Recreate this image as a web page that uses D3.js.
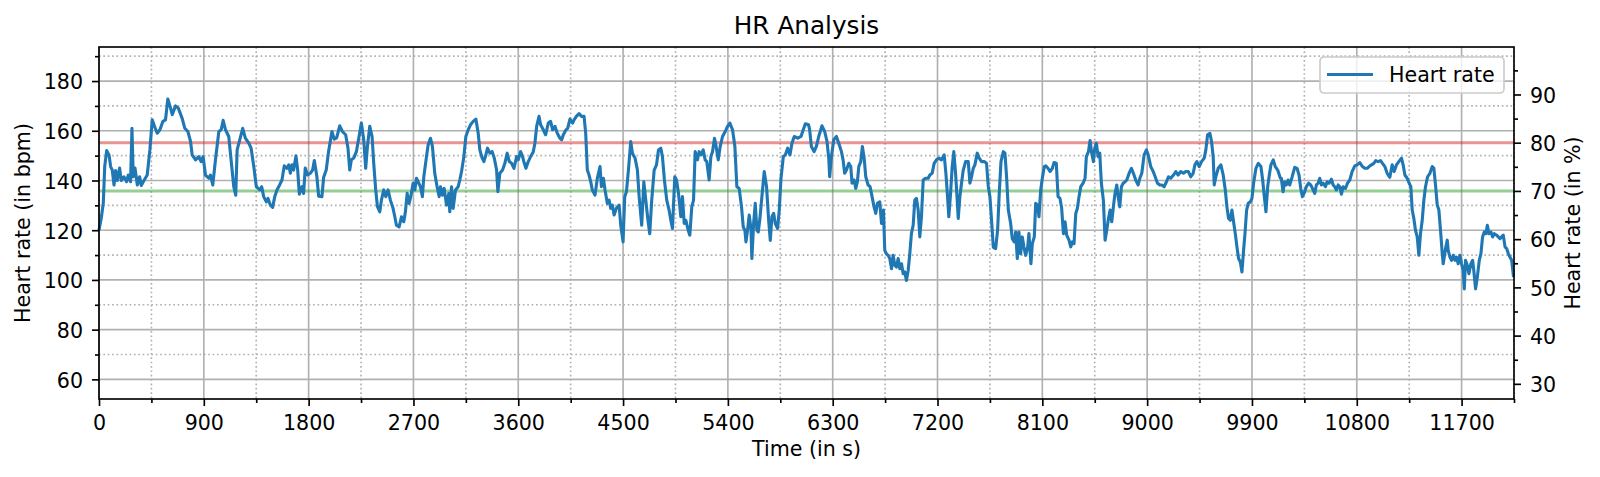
<!DOCTYPE html>
<html>
<head>
<meta charset="utf-8">
<title>HR Analysis</title>
<script src="https://cdn.jsdelivr.net/npm/d3@7"></script>
<style>
  html, body { margin: 0; padding: 0; background: #fff; }
  svg { display: block; }
</style>
</head>
<body>
<div id="chart"></div>
<script>
// elapsed time of each sample (s)
var timeSec = [
  0, 20, 37, 49, 66, 86, 100, 114, 129, 143,
  157, 177, 191, 214, 237, 251, 271, 283, 294, 309,
  329, 349, 363, 386, 414, 437, 457, 477, 500, 523,
  549, 571, 591, 614, 629, 657, 680, 714, 737, 763,
  786, 800, 829, 857, 877, 894, 914, 943, 957, 977,
  1000, 1029, 1049, 1066, 1086, 1114, 1143, 1157, 1174, 1186,
  1209, 1234, 1257, 1286, 1306, 1329, 1351, 1380, 1397, 1414,
  1437, 1451, 1471, 1491, 1509, 1528, 1551, 1571, 1591, 1614,
  1629, 1643, 1657, 1671, 1691, 1706, 1720, 1743, 1757, 1771,
  1791, 1814, 1834, 1849, 1871, 1886, 1914, 1929, 1951, 1971,
  2000, 2020, 2037,
  2044, 2067, 2090, 2118, 2138, 2153, 2167, 2187, 2210, 2233,
  2253, 2273, 2290, 2305, 2325, 2345, 2359, 2376, 2391, 2411,
  2425, 2445, 2462, 2482, 2502, 2525, 2540, 2554, 2577, 2597,
  2617, 2631, 2646, 2663, 2677, 2697, 2712, 2726, 2746, 2760,
  2777, 2789, 2812, 2826, 2846, 2863, 2883, 2903, 2921, 2932,
  2949, 2964, 2984, 3004, 3012, 3027, 3041, 3061, 3084, 3098,
  3113, 3133, 3150, 3170, 3190, 3213, 3236, 3256, 3270, 3290,
  3305, 3322, 3336, 3356, 3376, 3394, 3414, 3425, 3442, 3465,
  3485, 3505, 3523, 3543, 3563, 3586, 3600, 3620, 3637, 3652,
  3666, 3686, 3706, 3729, 3743, 3758, 3778, 3792, 3815, 3835,
  3858, 3878, 3895, 3915, 3935, 3958, 3973, 3987, 4010, 4024,
  4044, 4067,
  4079, 4099, 4122, 4142, 4165, 4179, 4193, 4208, 4222, 4236,
  4259, 4279, 4302, 4314, 4331, 4345, 4365, 4380, 4394, 4408,
  4423, 4443, 4466, 4480, 4500, 4514, 4529, 4546, 4566, 4580,
  4603, 4623, 4638, 4660, 4678, 4695, 4712, 4729, 4746, 4767,
  4787, 4804, 4824, 4838, 4855, 4875, 4895, 4910, 4924, 4944,
  4959, 4976, 4996, 5010, 5025, 5039, 5059, 5073, 5090, 5105,
  5119, 5139, 5153, 5168, 5188, 5205, 5219, 5239, 5254, 5268,
  5285, 5297, 5317, 5334, 5354, 5377, 5397, 5417, 5440, 5460,
  5477, 5497, 5517, 5532, 5546, 5555, 5569, 5583, 5598, 5606,
  5621, 5635, 5649, 5661, 5675, 5692, 5712, 5732, 5750, 5764,
  5778, 5793, 5807, 5827, 5841, 5856, 5876, 5893, 5913, 5933,
  5950, 5970, 5999, 6028, 6042, 6065, 6093,
  6102, 6117, 6140, 6160, 6180, 6208, 6231, 6251, 6266, 6274,
  6289, 6309, 6332, 6352, 6375, 6389, 6403, 6418, 6438, 6455,
  6466, 6484, 6498, 6512, 6524, 6541, 6555, 6570, 6584, 6604,
  6621, 6638, 6655, 6670, 6684, 6704, 6719, 6736, 6747, 6762,
  6776, 6790, 6805, 6819, 6833, 6847, 6862, 6876, 6891, 6905,
  6919, 6933, 6948, 6962, 6976, 6991, 7005, 7019, 7034, 7048,
  7062, 7077, 7097, 7120, 7134, 7154, 7171, 7191, 7211, 7234,
  7257, 7272, 7286, 7297, 7312, 7326, 7340, 7355, 7369, 7378,
  7392, 7406, 7421, 7441, 7464, 7478, 7492, 7507, 7521, 7541,
  7558, 7578, 7601, 7621, 7636, 7650, 7664, 7679, 7699, 7716,
  7730, 7745, 7765, 7779, 7793, 7808, 7828, 7842, 7859, 7871,
  7885, 7899, 7914, 7928, 7942, 7957, 7974, 7985, 8002, 8014,
  8031, 8043, 8060, 8071, 8086, 8100, 8117,
  8129, 8149, 8166, 8186, 8200, 8220, 8235, 8252, 8266, 8281,
  8295, 8309, 8329, 8344, 8358, 8372, 8387, 8401, 8415, 8430,
  8450, 8467, 8478, 8496, 8510, 8524, 8539, 8550, 8564, 8579,
  8593, 8607, 8624, 8639, 8653, 8668, 8682, 8696, 8710, 8722,
  8739, 8751, 8765, 8779, 8794, 8811, 8825, 8845, 8865, 8882,
  8902, 8923, 8937, 8954, 8974, 8994, 9009, 9031, 9052, 9069,
  9089, 9109, 9126, 9146, 9166, 9183, 9203, 9226, 9246, 9266,
  9289, 9312, 9332, 9353, 9375, 9395, 9410, 9427, 9447, 9467,
  9490, 9504, 9519, 9539, 9553, 9567, 9576, 9590, 9610, 9633,
  9653, 9671, 9685, 9699, 9714, 9728, 9742, 9757, 9771, 9785,
  9800, 9814, 9828, 9840, 9854, 9868, 9886, 9900, 9914, 9934,
  9954, 9977, 9992, 10006, 10020, 10035, 10049, 10063, 10083, 10100,
  10121, 10144,
  10152, 10167, 10181, 10195, 10210, 10224, 10244, 10267, 10287, 10304,
  10319, 10333, 10347, 10367, 10387, 10405, 10425, 10439, 10453, 10468,
  10482, 10496, 10511, 10531, 10545, 10562, 10582, 10597, 10611, 10625,
  10640, 10654, 10668, 10683, 10703, 10720, 10740, 10760, 10783, 10803,
  10826, 10849, 10869, 10889, 10906, 10926, 10946, 10963, 10983, 11004,
  11021, 11041, 11061, 11084, 11104, 11121, 11141, 11161, 11184, 11198,
  11213, 11233, 11250, 11264, 11276, 11290, 11304, 11319, 11333, 11347,
  11362, 11376, 11390, 11408, 11428, 11448, 11462, 11476, 11491, 11505,
  11519, 11534, 11542, 11551, 11565, 11577, 11585, 11600, 11614, 11628,
  11643, 11657, 11671, 11686, 11700, 11714, 11723, 11734, 11749, 11763,
  11780, 11795, 11806, 11820, 11835, 11852, 11866, 11880, 11895, 11909,
  11921, 11935, 11952, 11967, 11981, 12001, 12015, 12030, 12044, 12058,
  12073, 12087, 12101, 12115, 12130, 12146
];

// heart rate at each sample (bpm)
var heartRate = [
  120, 125, 131, 145.6, 152, 150.3, 145.6, 144.2, 138.2, 144,
  140, 145, 140, 141.5, 139.5, 142.2, 139.5, 161, 141.5, 145,
  138.2, 141.5, 138, 140, 142.2, 152.3, 164.4, 161.7, 159, 160.4,
  163.8, 164.4, 172.8, 169.2, 166.5, 170, 169.2, 165, 161, 159.7,
  155.7, 150.3, 148.3, 149.6, 147.6, 149.6, 142.2, 140.9, 142.2, 138.2,
  148.3, 159.7, 160.4, 164.2, 160.4, 157.7, 144.2, 137.5, 134.1, 152.3,
  156.4, 161, 157, 155, 153, 145.6, 137.5, 136.2, 137.5, 133.5,
  131.4, 132.8, 130.1, 129.2, 133.5, 136.2, 138.2, 140.2, 145.9, 144.9,
  146.3, 142.9, 146.3, 144.2, 149.9, 144.2, 134.5, 137.5, 134.8, 145,
  142.2, 142.9, 144.2, 148, 141.5, 133.7, 133.5, 141.3, 144.2, 151.6,
  159.7, 156.6, 157,
  157.7, 162, 159.7, 158.4, 153, 144.2, 148.3, 149, 151.6, 157.7,
  163.1, 156.4, 144.9, 153.7, 161.8, 157.7, 146.9, 136.2, 129.5, 127.4,
  132.1, 136.2, 133.5, 136.2, 132.1, 128.8, 125.4, 122, 121.3, 125.4,
  123.4, 127.4, 134.8, 130.8, 133.5, 138.9, 136.2, 140.9, 138.9, 137.5,
  133.5, 141.5, 149.6, 154.3, 157, 153.7, 142.9, 137.5, 133.5, 137.5,
  134.1, 136.8, 130.1, 134.8, 127.4, 137.5, 128.8, 136.2, 137.5, 140.2,
  143.6, 149.6, 157.7, 160.4, 162.4, 163.8, 164.7, 159, 152.3, 149,
  147.6, 150.3, 153, 151, 151.6, 149, 144.2, 135.5, 142.9, 144.2,
  146.9, 151, 147.6, 146.9, 144.9, 149.6, 148.3, 151.6, 149.6, 146.9,
  144.9, 147.6, 149.6, 151.6, 155, 161.8, 165.8, 162.4, 160.4, 158.4,
  163.1, 163.8, 160.4, 161.8, 159, 157, 156.4, 158.4, 160.4, 161,
  164.7, 163.1,
  164.4, 165.8, 166.9, 165.8, 165.8, 159, 144.2, 142.2, 139.5, 136.2,
  134.1, 140.9, 145.6, 137.5, 140.9, 136.2, 130.8, 132.1, 128.8, 130.1,
  126.1, 128.8, 130.1, 122, 115.3, 133.5, 135.5, 144.2, 155.7, 151,
  149, 144.2, 133.5, 122, 139.5, 132.1, 124.7, 118.6, 132.1, 144.2,
  146.3, 152.3, 153, 149.6, 140.2, 132.1, 128.1, 124, 120.7, 141.5,
  140.2, 134.8, 125.4, 133.5, 122.7, 124, 120, 118, 129.4, 132.1,
  151.6, 148.3, 151.6, 150.3, 152.3, 148.3, 147.6, 140.2, 149.6, 151.6,
  157, 154.3, 148.3, 153.7, 157.7, 159.7, 161.8, 163.1, 160.4, 153.7,
  137.5, 136.8, 129.4, 121.3, 120, 115.3, 120, 126.1, 120.7, 108.6,
  122.7, 130.8, 120, 119.3, 124.7, 133.5, 143.6, 137.5, 124, 115.9,
  125.4, 126.8, 122.7, 120.7, 128.1, 140.9, 149.6, 150.3, 153, 150.3,
  155, 157.7, 157, 157.7, 159.7, 162.8, 162.4,
  160.4, 153.7, 151.6, 153.7, 157.7, 162, 159.7, 155.7, 149, 141.5,
  149.6, 156.4, 157.7, 155, 151.6, 148.3, 142.9, 144.2, 146.9, 145.6,
  138.9, 140.2, 136.8, 139.5, 145.6, 147.6, 153.7, 149, 141.5, 138.2,
  137.5, 133.5, 129.4, 126.8, 130.8, 131.4, 122.7, 128.1, 111.9, 110.5,
  109.9, 108.6, 104.5, 109.9, 105.9, 105.2, 108.6, 104.5, 106.5, 102.5,
  103.2, 99.8, 103.8, 110.6, 118.7, 122, 132.1, 132.8, 128.1, 117.3,
  125.4, 140.2, 140.9, 140.9, 142.2, 142.9, 146.9, 148.3, 149, 148.3,
  150.3, 142.9, 133.5, 125.4, 134.8, 145.6, 151.6, 142.9, 132.1, 124.7,
  133.5, 138.9, 144.2, 147.6, 147.6, 138.9, 141.5, 144.9, 146.3, 151,
  149, 147.6, 147.6, 146.9, 137.5, 133.5, 124, 113.2, 112.6, 120,
  134.8, 147.6, 151.6, 151, 141.5, 128.1, 122.7, 116.6, 115.3, 119.3,
  108.6, 119.3, 110.5, 117.3, 113.2, 109.9, 113.2, 118.7, 106.5, 114.6,
  117.3, 130.8, 130.1, 125.4, 136.2, 140.9, 145.6,
  145.9, 144.9, 143.6, 144.9, 147.2, 146.9, 133.5, 132.8, 128.8, 118.6,
  123.4, 118, 116, 113.3, 115.3, 114.6, 126.7, 128.8, 133.5, 137.5,
  138.9, 140.9, 149.6, 151.6, 156.1, 151, 147.6, 153, 155, 149.6,
  151, 138.9, 132.1, 116, 120, 124.7, 128.1, 123.4, 129.4, 134.1,
  138.2, 133.5, 129.4, 137.5, 138.9, 139.5, 140.2, 142.9, 144.9, 142.9,
  140.2, 138.2, 140.9, 142.9, 150.3, 152.3, 150.3, 145.6, 143.6, 141.5,
  138.9, 138.2, 138.2, 137.5, 139.5, 141.5, 140.9, 142.2, 143.6, 142.2,
  143.6, 142.9, 143.6, 143.6, 141.5, 142.9, 146.3, 147.6, 145.6, 147.6,
  149, 152.3, 158.4, 159, 155.7, 149.6, 138.2, 141.5, 144.9, 146.3,
  142.2, 136.2, 129.4, 124.7, 124, 128.1, 123.4, 118.6, 113.3, 108.6,
  107.2, 103.2, 111.9, 118.6, 128.1, 130.8, 131.4, 132.8, 138.9, 144.9,
  146.9, 145.6, 140.2, 133.5, 127.4, 137.5, 142.2, 146.3, 148.3, 145.6,
  144.2, 140.9,
  140.9, 135.5, 139.5, 138.2, 140.2, 138.2, 141.3, 145.3, 144.9, 142.2,
  136.8, 133.5, 134.8, 137.5, 138.9, 138.2, 136.2, 134.8, 138.2, 138.9,
  140.9, 138.2, 138.9, 137.5, 139.5, 138.9, 140.5, 138.2, 137.5, 136.2,
  138.2, 137.5, 134.5, 137.5, 136.8, 138.9, 140.2, 143.6, 145.9, 146.3,
  147.2, 145.6, 144.9, 144.9, 145.6, 146.3, 146.9, 148, 147.6, 148,
  146.9, 145.6, 142.9, 141.3, 146.3, 143.6, 146.3, 147.6, 149, 146.3,
  142.2, 140.9, 138.9, 137.5, 128.1, 124.7, 120, 117.3, 109.9, 118.6,
  124, 132.1, 137.5, 141.5, 142.9, 145.6, 144.9, 138.2, 130.1, 128.1,
  120, 110.6, 106.5, 109.2, 113.3, 116, 111.9, 109.2, 107.9, 109.9,
  107.9, 109.2, 106.5, 109.9, 106.5, 103.8, 96.4, 107.9, 105.9, 102.5,
  106.5, 107.9, 103.2, 96.4, 101.1, 107.9, 110.6, 117.3, 119.3, 118.6,
  122, 118.6, 119.3, 117.3, 118.6, 118, 117.3, 116.6, 117.3, 118,
  113.3, 112.6, 110.6, 109.2, 107.9, 101.1
];

var hrMax = 194;                 // bpm that maps to 100 %
var zoneFractions = [0.7, 0.8];  // guide lines, fraction of hrMax
var timeTicks = [0, 900, 1800, 2700, 3600, 4500, 5400, 6300, 7200, 8100, 9000, 9900, 10800, 11700];
var bpmTicks = [60, 80, 100, 120, 140, 160, 180];
var percentTicks = [30, 40, 50, 60, 70, 80, 90];
var seriesName = 'Heart rate';

;(function() {
  'use strict';

  var HrChart = function(element, options) {
    this.element = element;
    this.options = Object.assign({}, HrChart.DEFAULTS, options);
    this.init();
  };

  HrChart.DEFAULTS = {
    width: 1600,
    height: 477,
    margin: { top: 47, right: 86, bottom: 78, left: 99 },
    xDomain: [0, 12150],
    yDomain: [52.1, 193.7],
    fontSize: 20.6,
    lineColor: '#1f77b4',
    lineWidth: 3.1,
    gridColor: '#b0b0b0',
    zoneColors: ['#2ca02c', '#d62728']
  };

  HrChart.prototype.init = function() {
    var self = this,
        o = self.options;

    self.w = o.width - o.margin.left - o.margin.right;
    self.h = o.height - o.margin.top - o.margin.bottom;

    self.svg = d3.select(self.element)
      .append('svg')
      .attr('width', o.width)
      .attr('height', o.height)
      .style('font-family', "'DejaVu Sans', sans-serif");

    self.g = self.svg.append('g')
      .attr('transform', 'translate(' + o.margin.left + ',' + o.margin.top + ')');

    self.x = d3.scaleLinear().domain(o.xDomain).range([0, self.w]);
    self.y = d3.scaleLinear().domain(o.yDomain).range([self.h, 0]);
    self.y2 = d3.scaleLinear()
      .domain(o.yDomain.map(function(v) { return v / o.hrMax * 100; }))
      .range([self.h, 0]);

    // minor ticks sit halfway between the major ones
    var inside = function(scale) {
      var dom = scale.domain();
      return function(v) { return v >= dom[0] && v <= dom[1]; };
    };
    self.timeMinor = o.timeTicks.map(function(t) { return t + 450; }).filter(inside(self.x));
    self.bpmMinor = o.bpmTicks.map(function(v) { return v + 10; }).filter(inside(self.y));
    self.pctMinor = o.percentTicks.map(function(v) { return v + 5; }).filter(inside(self.y2));

    self.grid();
    self.zones();
    self.render();
    self.axes();
    self.legend();
    self.labels();
  };

  /* ------- GRID ------- */
  HrChart.prototype.grid = function() {
    var self = this,
        o = self.options;

    var grid = self.g.append('g')
      .attr('class', 'grid')
      .attr('stroke', o.gridColor)
      .attr('stroke-width', 1.65);

    grid.selectAll('line.xminor')
      .data(self.timeMinor)
      .enter().append('line')
      .attr('class', 'xminor')
      .attr('x1', function(d) { return self.x(d); })
      .attr('x2', function(d) { return self.x(d); })
      .attr('y1', 0)
      .attr('y2', self.h)
      .attr('stroke-dasharray', '1.65,2.72');

    grid.selectAll('line.yminor')
      .data(self.bpmMinor)
      .enter().append('line')
      .attr('class', 'yminor')
      .attr('x1', 0)
      .attr('x2', self.w)
      .attr('y1', function(d) { return self.y(d); })
      .attr('y2', function(d) { return self.y(d); })
      .attr('stroke-dasharray', '1.65,2.72');

    grid.selectAll('line.xmajor')
      .data(o.timeTicks)
      .enter().append('line')
      .attr('class', 'xmajor')
      .attr('x1', function(d) { return self.x(d); })
      .attr('x2', function(d) { return self.x(d); })
      .attr('y1', 0)
      .attr('y2', self.h);

    grid.selectAll('line.ymajor')
      .data(o.bpmTicks)
      .enter().append('line')
      .attr('class', 'ymajor')
      .attr('x1', 0)
      .attr('x2', self.w)
      .attr('y1', function(d) { return self.y(d); })
      .attr('y2', function(d) { return self.y(d); });
  };

  /* ------- ZONE LINES ------- */
  HrChart.prototype.zones = function() {
    var self = this,
        o = self.options;

    self.g.append('g')
      .attr('class', 'zones')
      .selectAll('line')
      .data(o.zoneFractions)
      .enter().append('line')
      .attr('x1', 0)
      .attr('x2', self.w)
      .attr('y1', function(d) { return self.y(d * o.hrMax); })
      .attr('y2', function(d) { return self.y(d * o.hrMax); })
      .attr('stroke', function(d, i) { return o.zoneColors[i]; })
      .attr('stroke-opacity', 0.5)
      .attr('stroke-width', o.lineWidth);
  };

  /* ------- HEART RATE LINE ------- */
  HrChart.prototype.render = function() {
    var self = this,
        o = self.options;

    var line = d3.line()
      .x(function(i) { return self.x(o.times[i]); })
      .y(function(i) { return self.y(o.values[i]); });

    self.g.append('path')
      .datum(d3.range(o.times.length))
      .attr('class', 'hr')
      .attr('fill', 'none')
      .attr('stroke', o.lineColor)
      .attr('stroke-width', o.lineWidth)
      .attr('stroke-linejoin', 'round')
      .attr('d', line);
  };

  /* ------- AXES ------- */
  HrChart.prototype.axes = function() {
    var self = this,
        o = self.options;

    var style = function(sel, anchor) {
      sel.select('.domain').remove();
      sel.selectAll('.tick line').attr('stroke', '#000').attr('stroke-width', 1.65);
      sel.selectAll('.tick text')
        .attr('fill', '#000')
        .style('font-size', o.fontSize + 'px')
        .style('font-family', "'DejaVu Sans', sans-serif");
      if (anchor) sel.selectAll('.tick text').attr('text-anchor', anchor);
    };

    var bottom = self.g.append('g').attr('transform', 'translate(0,' + self.h + ')');
    bottom.append('g')
      .call(d3.axisBottom(self.x).tickValues(self.timeMinor).tickSize(4).tickFormat(''))
      .call(style);
    bottom.append('g')
      .call(d3.axisBottom(self.x).tickValues(o.timeTicks).tickSize(7).tickPadding(9)
        .tickFormat(d3.format('d')))
      .call(style);

    var left = self.g.append('g');
    left.append('g')
      .call(d3.axisLeft(self.y).tickValues(self.bpmMinor).tickSize(4).tickFormat(''))
      .call(style);
    left.append('g')
      .call(d3.axisLeft(self.y).tickValues(o.bpmTicks).tickSize(7).tickPadding(9)
        .tickFormat(d3.format('d')))
      .call(style)
      .selectAll('.tick text').attr('dy', '0.38em');

    var right = self.g.append('g').attr('transform', 'translate(' + self.w + ',0)');
    right.append('g')
      .call(d3.axisRight(self.y2).tickValues(self.pctMinor).tickSize(4).tickFormat(''))
      .call(style);
    right.append('g')
      .call(d3.axisRight(self.y2).tickValues(o.percentTicks).tickSize(7).tickPadding(9)
        .tickFormat(d3.format('d')))
      .call(style)
      .selectAll('.tick text').attr('dy', '0.38em');

    // spines
    self.g.append('rect')
      .attr('width', self.w)
      .attr('height', self.h)
      .attr('fill', 'none')
      .attr('stroke', '#000')
      .attr('stroke-width', 1.65);
  };

  /* ------- LEGEND ------- */
  HrChart.prototype.legend = function() {
    var self = this,
        o = self.options;

    var legend = self.g.append('g')
      .attr('class', 'legend')
      .attr('transform', 'translate(' + (self.w - 194) + ',10)');

    legend.append('rect')
      .attr('width', 184)
      .attr('height', 36)
      .attr('rx', 4)
      .attr('fill', '#fff')
      .attr('fill-opacity', 0.8)
      .attr('stroke', '#cccccc')
      .attr('stroke-width', 1.65);

    legend.append('line')
      .attr('x1', 7)
      .attr('x2', 53)
      .attr('y1', 17.5)
      .attr('y2', 17.5)
      .attr('stroke', o.lineColor)
      .attr('stroke-width', o.lineWidth);

    legend.append('text')
      .attr('x', 69)
      .attr('y', 24.5)
      .style('font-size', o.fontSize + 'px')
      .text(o.name);
  };

  /* ------- TITLES ------- */
  HrChart.prototype.labels = function() {
    var self = this,
        o = self.options;

    self.g.append('text')
      .attr('x', self.w / 2)
      .attr('y', -13)
      .attr('text-anchor', 'middle')
      .style('font-size', (o.fontSize * 1.2) + 'px')
      .text('HR Analysis');

    self.g.append('text')
      .attr('x', self.w / 2)
      .attr('y', self.h + 57)
      .attr('text-anchor', 'middle')
      .style('font-size', o.fontSize + 'px')
      .text('Time (in s)');

    self.g.append('text')
      .attr('transform', 'translate(-69,' + (self.h / 2) + ') rotate(-90)')
      .attr('text-anchor', 'middle')
      .style('font-size', o.fontSize + 'px')
      .text('Heart rate (in bpm)');

    self.g.append('text')
      .attr('transform', 'translate(' + (self.w + 66) + ',' + (self.h / 2) + ') rotate(-90)')
      .attr('text-anchor', 'middle')
      .style('font-size', o.fontSize + 'px')
      .text('Heart rate (in %)');
  };

  new HrChart('#chart', {
    times: timeSec,
    values: heartRate,
    hrMax: hrMax,
    zoneFractions: zoneFractions,
    timeTicks: timeTicks,
    bpmTicks: bpmTicks,
    percentTicks: percentTicks,
    name: seriesName
  });
})();
</script>
</body>
</html>
